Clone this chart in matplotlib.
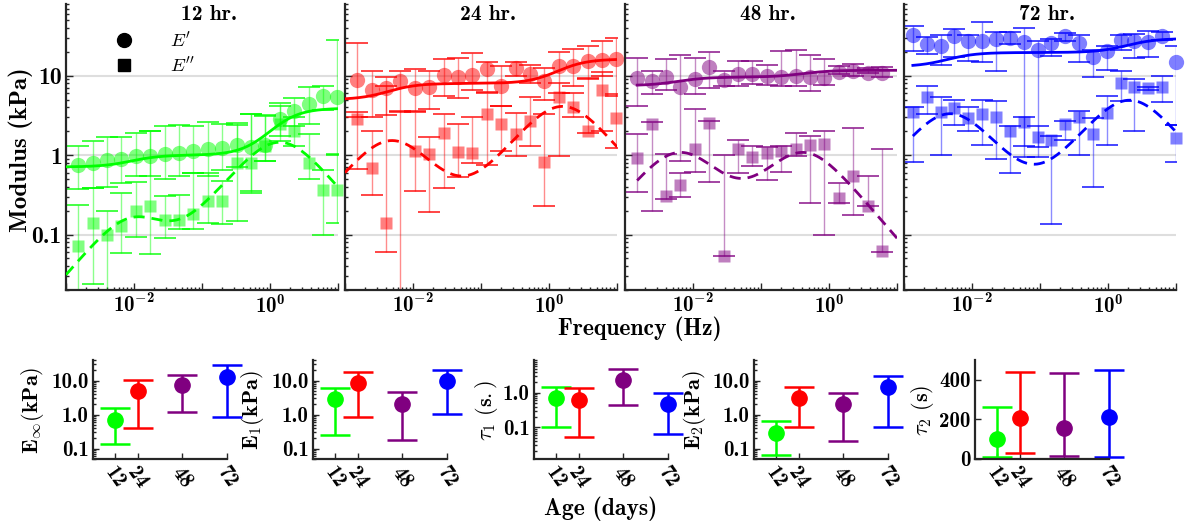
import numpy as np
import matplotlib
matplotlib.use('Agg')
import matplotlib.pyplot as plt
from matplotlib.lines import Line2D
from matplotlib.ticker import FixedLocator, FixedFormatter, LogLocator, NullFormatter

plt.rcParams['mathtext.fontset'] = 'cm'
plt.rcParams['mathtext.bf'] = 'cmb10'
plt.rcParams['mathtext.rm'] = 'cmb10'
plt.rcParams['axes.unicode_minus'] = False
BF = 'cmb10'  # computer modern bold, shipped with matplotlib

# ---------------- data ----------------
ages = [12, 24, 48, 72]
titles = ['12 hr.', '24 hr.', '48 hr.', '72 hr.']
colors = [(0, 1, 0), (1, 0, 0), (0.5, 0, 0.5), (0, 0, 1)]

# fit parameters (bottom row)
E_inf = [0.71, 5.0, 7.5, 13.0]
E_inf_hi = [1.6, 10.2, 14.6, 28.0]
E_inf_lo = [0.14, 0.41, 1.17, 0.84]
E_1 = [2.9, 8.2, 2.1, 9.8]
E_1_hi = [6.2, 18.0, 4.5, 21.0]
E_1_lo = [0.26, 0.87, 0.175, 1.05]
tau_1 = [0.72, 0.63, 2.37, 0.48]
tau_1_hi = [1.49, 1.39, 4.9, 1.0]
tau_1_lo = [0.10, 0.054, 0.45, 0.062]
E_2 = [0.29, 3.0, 2.1, 6.6]
E_2_hi = [0.67, 6.6, 4.2, 13.9]
E_2_lo = [0.066, 0.43, 0.166, 0.43]
tau_2 = [101, 207, 157, 210]
tau_2_hi = [263, 440, 435, 447]
tau_2_lo = [10, 30, 15, 12]

# frequencies (Hz)
freq_a = [0.00151, 0.00246, 0.00401, 0.00653, 0.0106, 0.0173, 0.0282, 0.0459, 0.0747,
          0.122, 0.198, 0.323, 0.525, 0.855, 1.39, 2.27, 3.69, 6.01, 9.78]
freq_48 = freq_a[:18]
freq_72 = [0.00135, 0.00216, 0.00345, 0.00551, 0.00881, 0.0141, 0.0225, 0.0360, 0.0575, 0.0919,
           0.147, 0.235, 0.375, 0.600, 0.958, 1.53, 2.45, 3.91, 6.25, 10.0]

# 12 hr
ep_12 = [0.76, 0.80, 0.88, 0.90, 0.97, 0.97, 1.04, 1.07, 1.12, 1.21, 1.24, 1.34, 1.28, 1.33, 2.81, 3.58, 4.34, 5.5, 5.36]
ep_12_hi = [1.3, 1.5, 1.7, 1.7, 1.9, 2.0, 2.3, 2.4, 2.3, 2.6, 2.5, 2.4, 3.3, 3.2, 4.5, 5.3, 7.2, 7.4, 28.0]
ep_12_lo = [0.37, 0.38, 0.40, 0.45, 0.55, 0.55, 0.50, 0.55, 0.60, 0.55, 0.65, 0.70, 0.35, 0.85, 1.5, 2.3, 2.5, 3.7, 1.0]
epp_12 = [0.072, 0.141, 0.10, 0.128, 0.197, 0.228, 0.151, 0.151, 0.179, 0.264, 0.264, 0.80, 0.80, 1.30, 2.43, 2.0, 0.80, 0.363, 0.363]
epp_12_hi = [0.233, 0.38, 0.197, 0.33, 0.46, 2.04, 0.305, 0.31, 0.60, 0.60, 0.47, 2.55, 3.25, 3.15, 4.1, 3.0, 1.82, 0.65, 1.04]
epp_12_lo = [0.018, 0.024, 0.018, 0.059, 0.093, 0.056, 0.09, 0.118, 0.118, 0.138, 0.137, 0.148, 0.336, 0.85, 1.73, 1.3, 0.50, 0.10, 0.141]

# 24 hr
ep_24 = [8.8, 6.6, 7.0, 8.5, 7.0, 7.2, 10.3, 9.7, 10.1, 12.2, 7.5, 12.5, 10.6, 8.5, 13.1, 13.1, 15.2, 15.9, 16.3]
ep_24_hi = [25.9, 11.6, 9.5, 11.4, 12.0, 11.5, 16.2, 16.7, 19.4, 15.0, 13.1, 14.9, 13.5, 12.5, 20.0, 22.0, 24.0, 27.0, 30.0]
ep_24_lo = [3.0, 3.0, 3.2, 3.5, 3.6, 3.8, 5.5, 5.2, 6.7, 6.2, 4.1, 10.0, 8.0, 5.0, 6.0, 7.5, 9.0, 10.0, 5.5]
epp_24 = [2.86, 0.69, 0.138, 0.012, 1.12, 1.04, 1.91, 1.09, 1.05, 3.25, 2.5, 1.82, 2.68, 0.82, 5.4, 4.05, 2.0, 6.7, 2.95]
epp_24_hi = [3.5, 2.0, 7.5, 3.6, 3.5, 1.7, 3.3, 2.5, 3.0, 6.1, 4.2, 3.4, 5.4, 3.25, 8.1, 6.0, 9.4, 11.0, 5.8]
epp_24_lo = [0.67, 0.31, 0.06, 0.001, 0.35, 0.19, 0.38, 0.53, 0.8, 0.76, 1.12, 0.97, 1.3, 0.23, 0.97, 3.0, 1.9, 2.0, 1.24]

# 48 hr
ep_48 = [9.4, 8.7, 9.6, 7.2, 9.1, 12.8, 8.9, 10.6, 10.6, 10.0, 9.6, 10.0, 9.6, 9.4, 11.2, 11.6, 10.8, 10.8]
ep_48_hi = [16.8, 11.6, 16.3, 18.0, 16.8, 19.7, 11.4, 15.2, 15.5, 13.8, 20.6, 21.3, 18.1, 16.3, 13.1, 14.1, 12.5, 12.9]
ep_48_lo = [4.2, 5.9, 6.7, 0.85, 5.9, 7.0, 7.4, 7.4, 7.9, 7.7, 7.5, 7.5, 6.4, 7.6, 10.4, 9.8, 10.8, 9.7]
epp_48 = [0.93, 2.48, 0.305, 0.416, 1.18, 2.55, 0.054, 1.18, 0.94, 1.07, 1.12, 1.18, 1.36, 1.39, 0.29, 0.545, 0.228, 0.062]
epp_48_hi = [1.82, 2.6, 1.04, 0.6, 3.85, 2.7, 1.0, 1.57, 1.3, 1.26, 1.3, 1.9, 1.73, 2.04, 0.45, 2.2, 0.545, 1.18]
epp_48_lo = [0.34, 0.197, 0.28, 0.3, 0.61, 0.46, 0.053, 0.6, 0.73, 0.49, 0.62, 0.97, 0.246, 0.10, 0.25, 0.174, 0.226, 0.061]

# 72 hr
ep_72 = [33, 25, 24, 32, 27.7, 27.7, 29.4, 29.9, 26.5, 21, 25.9, 32, 25.9, 17.3, 20.3, 28, 27.7, 26.6, 31.4, 14.9]
ep_72_hi = [42, 30.8, 33, 38.7, 33, 47, 36, 35.5, 40, 27, 29, 34.6, 33, 21.3, 23.5, 33, 33.5, 37, 35.5, 24]
ep_72_lo = [20.3, 19, 13.5, 17.3, 15.2, 14.8, 11.4, 25, 1.3, 1.25, 17.9, 27, 14.8, 9.6, 11.7, 21.3, 16.7, 17, 28.5, 2.4]
epp_72 = [3.47, 5.36, 3.47, 3.94, 2.95, 3.31, 3.03, 2.0, 2.6, 1.68, 1.53, 2.43, 3.0, 1.82, 3.4, 8.1, 7.2, 6.9, 7.2, 1.65]
epp_72_hi = [4.0, 7.5, 5.36, 5.0, 4.0, 5.0, 4.8, 2.3, 3.0, 2.3, 1.73, 2.7, 3.6, 2.9, 5.6, 11.6, 9.0, 7.2, 9.9, 2.36]
epp_72_lo = [0.82, 3.25, 0.99, 2.36, 2.0, 1.34, 0.9, 0.59, 0.94, 0.94, 0.137, 1.54, 1.0, 0.40, 1.36, 4.77, 2.04, 6.7, 4.7, 0.82]

panels = [
    (freq_a, ep_12, ep_12_hi, ep_12_lo, epp_12, epp_12_hi, epp_12_lo, 0.001),
    (freq_a, ep_24, ep_24_hi, ep_24_lo, epp_24, epp_24_hi, epp_24_lo, 0.001),
    (freq_48, ep_48, ep_48_hi, ep_48_lo, epp_48, epp_48_hi, epp_48_lo, freq_48[0]),
    (freq_72, ep_72, ep_72_hi, ep_72_lo, epp_72, epp_72_hi, epp_72_lo, freq_72[0]),
]
YLIM = (0.02, 80)


def storage(w, einf, e1, t1, e2, t2):
    return einf + e1 * (w * t1) ** 2 / (1 + (w * t1) ** 2) + e2 * (w * t2) ** 2 / (1 + (w * t2) ** 2)


def loss(w, e1, t1, e2, t2):
    return e1 * w * t1 / (1 + (w * t1) ** 2) + e2 * w * t2 / (1 + (w * t2) ** 2)


def err_points(ax, f, y, hi, lo, col, marker, ms):
    y = np.array(y)
    yerr = [np.maximum(y - np.array(lo), 0), np.maximum(np.array(hi) - y, 0)]
    eb = ax.errorbar(f, y, yerr=yerr, fmt='none', ecolor=col, elinewidth=1.0,
                     capsize=8, capthick=1.2, zorder=2)
    eb[2][0].set_alpha(0.45)
    for c in eb[1]:
        c.set_alpha(0.85)
    # markers are not clipped at the panel edge (like the original), but points
    # that fall outside the y range stay hidden
    inside = (y >= YLIM[0]) & (y <= YLIM[1])
    ax.plot(np.array(f)[inside], y[inside], ls='none', marker=marker, ms=ms, mfc=col,
            mec='none', alpha=0.5, zorder=3, clip_on=False)


def bold_ticks(labels, size):
    for t in labels:
        t.set_fontfamily(BF)
        t.set_fontsize(size)


W, H = 1189, 525
fig = plt.figure(figsize=(W / 100, H / 100), dpi=100)
dark = (0.15, 0.15, 0.15)

top_left = [66, 345, 625, 904]
for i in range(4):
    f, ep, ep_hi, ep_lo, epp, epp_hi, epp_lo, f0 = panels[i]
    col = colors[i]
    ax = fig.add_axes([top_left[i] / W, 1 - 290 / H, 272 / W, 286 / H])
    ax.set_xscale('log')
    ax.set_yscale('log')
    ax.set_xlim(1e-3, 10)
    ax.set_ylim(*YLIM)

    err_points(ax, f, ep, ep_hi, ep_lo, col, 'o', 11)
    err_points(ax, f, epp, epp_hi, epp_lo, col, 's', 9)

    ff = np.logspace(np.log10(f0), 1, 300)
    ax.plot(ff, storage(ff, E_inf[i], E_1[i], tau_1[i], E_2[i], tau_2[i]), color=col, lw=2, zorder=4)
    ax.plot(ff, loss(ff, E_1[i], tau_1[i], E_2[i], tau_2[i]), color=col, lw=2,
            ls=(0, (4, 2.5)), zorder=4)

    ax.grid(axis='y', which='major', color='0.87', lw=1.5)
    ax.set_axisbelow(True)
    for s in ['top', 'right']:
        ax.spines[s].set_visible(False)
    for s in ['left', 'bottom']:
        ax.spines[s].set_linewidth(1.6)
        ax.spines[s].set_color(dark)

    ax.xaxis.set_major_locator(FixedLocator([1e-3, 1e-2, 1e-1, 1, 10]))
    ax.xaxis.set_major_formatter(FixedFormatter(['', r'$\mathbf{10^{-2}}$', '', r'$\mathbf{10^{0}}$', '']))
    ax.xaxis.set_minor_locator(LogLocator(base=10, subs=np.arange(2, 10), numticks=20))
    ax.xaxis.set_minor_formatter(NullFormatter())
    ax.yaxis.set_major_locator(FixedLocator([0.1, 1, 10]))
    if i == 0:
        ax.yaxis.set_major_formatter(FixedFormatter(['0.1', '1', '10']))
    else:
        ax.yaxis.set_major_formatter(NullFormatter())
    ax.yaxis.set_minor_locator(LogLocator(base=10, subs=np.arange(2, 10), numticks=20))
    ax.yaxis.set_minor_formatter(NullFormatter())
    ax.tick_params(which='both', direction='in', color=dark, width=1)
    ax.tick_params(which='major', length=5, pad=3)
    ax.tick_params(which='minor', length=2.5)
    ax.tick_params(axis='x', labelsize=15)
    for t in ax.get_xticklabels():
        t.set_math_fontfamily('custom')
    bold_ticks(ax.get_yticklabels(), 17)

    ax.text(0.5 + 7 / 272, 0.995, titles[i], transform=ax.transAxes, family=BF,
            ha='center', va='top', fontsize=15.5)

    if i == 0:
        handles = [Line2D([], [], ls='none', marker='o', color='k', ms=10),
                   Line2D([], [], ls='none', marker='s', color='k', ms=8.5)]
        ax.legend(handles, [r"$E'$", r"$E''$"], frameon=False, loc='upper left',
                  bbox_to_anchor=(0.115, 0.965), fontsize=13.5, handletextpad=2.0,
                  labelspacing=0.3, handlelength=1.0)

fig.text(21 / W, 1 - 150 / H, 'Modulus (kPa)', family=BF, rotation=90, ha='center', va='center', fontsize=18)
fig.text(640 / W, 1 - 329 / H, 'Frequency (Hz)', family=BF, ha='center', va='center', fontsize=17)

# ---------------- bottom row ----------------
params = [
    (E_inf, E_inf_hi, E_inf_lo, r'$\mathbf{E_{\infty}(kPa)}$', 'log'),
    (E_1, E_1_hi, E_1_lo, r'$\mathbf{E_{1}(kPa)}$', 'log'),
    (tau_1, tau_1_hi, tau_1_lo, r'$\tau_1\ \mathbf{(s.)}$', 'tau1'),
    (E_2, E_2_hi, E_2_lo, r'$\mathbf{E_{2}(kPa)}$', 'log'),
    (tau_2, tau_2_hi, tau_2_lo, r'$\tau_2\ \mathbf{(s)}$', 'lin'),
]
bot_left = [93, 313, 534, 754, 975]
label_x = [33, 253, 486, 694, 922]
for j in range(5):
    vals, hi, lo, lab, kind = params[j]
    ax = fig.add_axes([bot_left[j] / W, 1 - 459 / H, 134 / W, 99 / H])
    for k in range(4):
        eb = ax.errorbar(ages[k], vals[k], yerr=[[vals[k] - lo[k]], [hi[k] - vals[k]]], fmt='o',
                         ms=11, color=colors[k], elinewidth=1.8, capsize=11, capthick=1.8)
        for art in [eb[0]] + list(eb[1]) + list(eb[2]):
            art.set_clip_on(False)
    ax.set_xlim(0, 72)
    if kind == 'lin':
        ax.set_ylim(0, 500)
        ax.set_yticks([0, 200, 400])
        ax.set_yticklabels(['0', '200', '400'])
    else:
        ax.set_yscale('log')
        if kind == 'log':
            ax.set_ylim(0.05, 40)
            ax.yaxis.set_major_locator(FixedLocator([0.1, 1, 10]))
            ax.yaxis.set_major_formatter(FixedFormatter(['0.1', '1.0', '10.0']))
        else:
            ax.set_ylim(0.012, 9)
            ax.yaxis.set_major_locator(FixedLocator([0.1, 1]))
            ax.yaxis.set_major_formatter(FixedFormatter(['0.1', '1.0']))
        ax.yaxis.set_minor_locator(LogLocator(base=10, subs=np.arange(2, 10), numticks=20))
        ax.yaxis.set_minor_formatter(NullFormatter())
    ax.set_xticks(ages)
    ax.set_xticklabels([str(a) for a in ages], rotation=-55, ha='center', va='top')
    for s in ['top', 'right']:
        ax.spines[s].set_visible(False)
    for s in ['left', 'bottom']:
        ax.spines[s].set_linewidth(1.6)
        ax.spines[s].set_color(dark)
    ax.tick_params(which='both', direction='in', color=dark, width=1)
    ax.tick_params(which='major', length=4, pad=3)
    ax.tick_params(which='minor', length=2)
    bold_ticks(ax.get_yticklabels(), 15)
    bold_ticks(ax.get_xticklabels(), 15)
    fig.text(label_x[j] / W, 1 - 410 / H, lab, rotation=90, ha='center', va='center', fontsize=16)

fig.text(601 / W, 1 - 509 / H, 'Age (days)', family=BF, ha='center', va='center', fontsize=17)

fig.savefig('out.png', dpi=100)
